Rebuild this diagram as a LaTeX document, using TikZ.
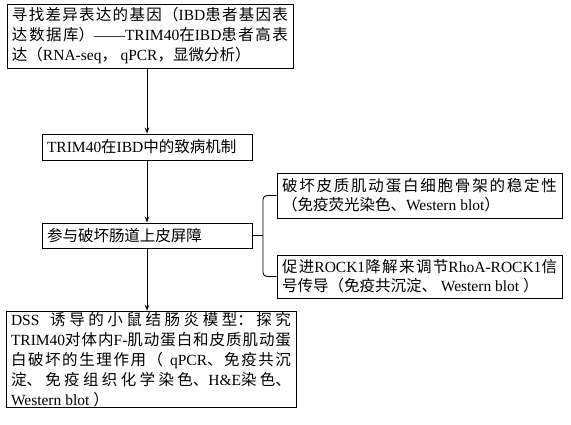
\documentclass[tikz,border=0pt]{standalone}
\usepackage{fontspec}
\setmainfont{Noto Sans CJK SC}
\newfontfamily\latinfont{Liberation Serif}
\newcommand{\ltn}[1]{{\latinfont #1}}
\XeTeXlinebreaklocale "zh"
\XeTeXlinebreakskip=0pt plus 1pt
\usetikzlibrary{arrows.meta}

\begin{document}
\begin{tikzpicture}[
    x=1pt, y=-1pt,
    box/.style={rectangle, draw, line width=0.9pt, inner xsep=5pt, inner ysep=2pt, align=justify, font=\fontsize{15.5}{20}\selectfont},
    sidebox/.style={box, text width=275pt, font=\fontsize{15.5}{19}\selectfont},
    arrow/.style={-{Stealth[length=6pt, width=4.5pt]}, line width=0.9pt},
    link/.style={line width=0.9pt}
]
\useasboundingbox (0,0) rectangle (571,425);

\node[box, text width=276pt, minimum height=64pt] (find) at (150,36) {寻找差异表达的基因（\ltn{IBD}患者基因表\linebreak 达数据库）\ltn{——TRIM40}在\ltn{IBD}患者高表\linebreak 达（\ltn{RNA-seq}， \ltn{qPCR}，显微分析）};

\node[box, text width=200pt, minimum height=26pt, align=left] (mech) at (147,147) {\ltn{TRIM40}在\ltn{IBD}中的致病机制};

\node[box, text width=200pt, minimum height=25pt, align=left] (barrier) at (147,235.5) {参与破坏肠道上皮屏障};

\node[sidebox, minimum height=45pt] (actin) at (419.5,195.5) {破坏皮质肌动蛋白细胞骨架的稳定性\linebreak （免疫荧光染色、\ltn{Western blot}）};

\node[sidebox, minimum height=43pt] (rock) at (419.5,276.5) {促进\ltn{ROCK1}降解来调节\ltn{RhoA-ROCK1}信\linebreak 号传导（免疫共沉淀、\ltn{ Western blot }）};

\node[box, text width=280pt, minimum height=95pt, inner xsep=5pt, inner ysep=1pt] (dss) at (151,359.5) {\ltn{DSS }诱导的小鼠结肠炎模型：探究\linebreak \ltn{TRIM40}对体内\ltn{F-}肌动蛋白和皮质肌动蛋\linebreak 白破坏的生理作用（\ltn{ qPCR}、免疫共沉\linebreak 淀、免疫组织化学染色、\ltn{H\&E}染色、\linebreak \ltn{Western blot }）};

% main flow
\draw[arrow] (mech.north |- find.south) -- (mech.north);
\draw[arrow] (mech.south) -- (barrier.north);
\draw[arrow] (barrier.south) -- (barrier.south |- dss.north);

% brace to the two mechanisms
\coordinate (brace) at (263,235.5);
\draw[link] (barrier.east) -- (brace);
\draw[link, rounded corners=4pt] (actin.west) -| (brace) |- (rock.west);

\end{tikzpicture}
\end{document}
